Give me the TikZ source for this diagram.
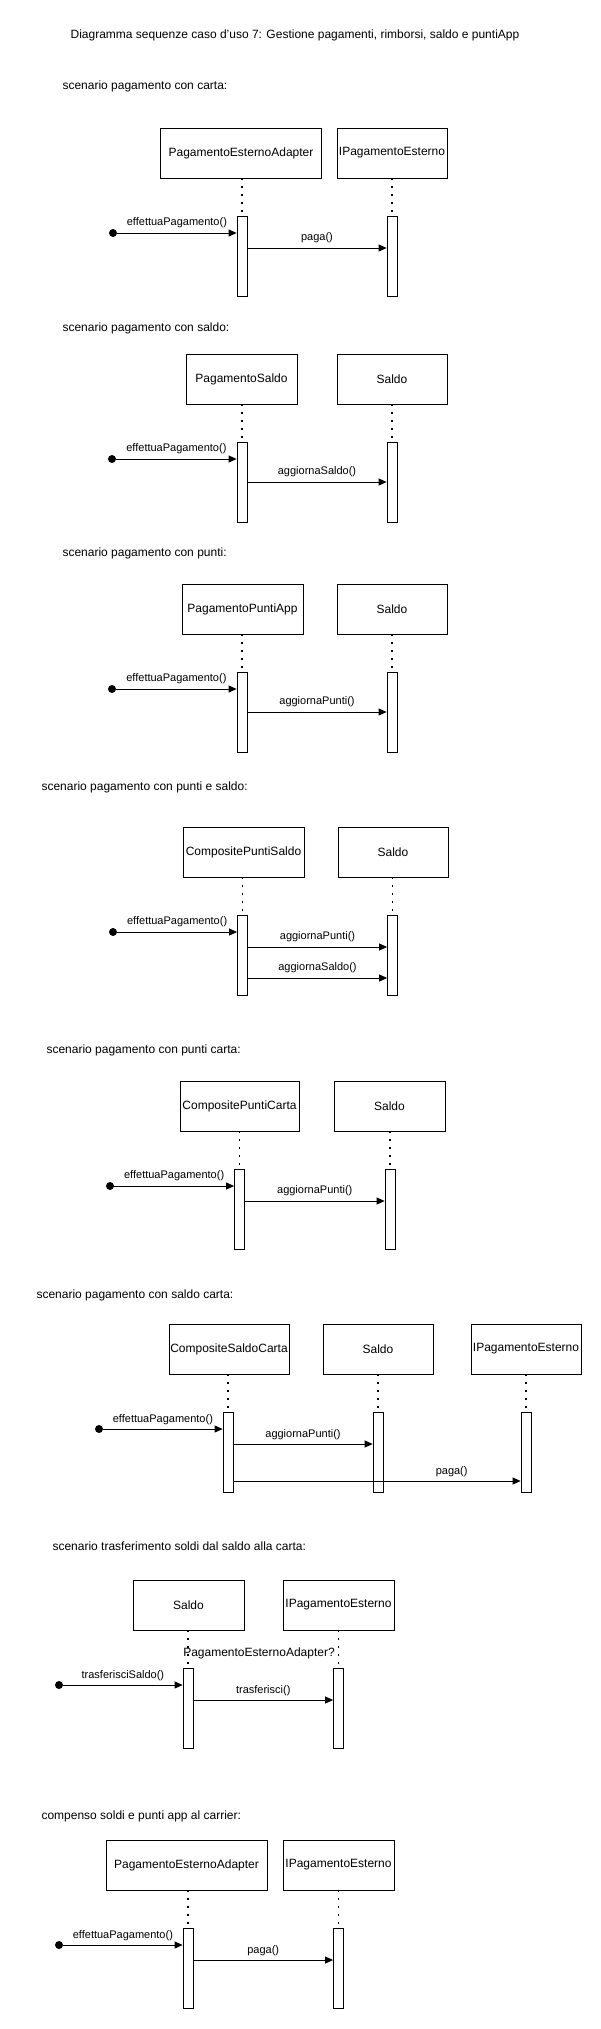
\documentclass[tikz,border=0pt]{standalone}
\usepackage{fontspec}
\setmainfont{Liberation Sans}
\usetikzlibrary{arrows.meta}
\usetikzlibrary{calc}

\tikzset{
  obj/.style={draw, line width=0.8pt, minimum height=50pt, inner sep=0pt, font=\fontsize{12}{14}\selectfont},
  act/.style={draw, line width=0.8pt, fill=white, minimum width=10pt, minimum height=80pt, inner sep=0pt},
  life/.style={line width=1.3pt, dash pattern=on 1.3pt off 6.7pt},
  msg/.style={line width=0.8pt, -{Triangle[length=8pt,width=7pt]}},
  startpt/.style={circle, fill=black, inner sep=0pt, minimum size=8pt},
  lbl/.style={font=\fontsize{11}{13}\selectfont, above=1pt},
  scen/.style={anchor=west, font=\fontsize{12}{14}\selectfont}
}

\begin{document}
\begin{tikzpicture}[x=1pt, y=-1pt]
  \useasboundingbox (0,0) rectangle (601,2029);

  \node[font=\fontsize{12}{14}\selectfont] (titolo) at (295,35) {Diagramma sequenze caso d'uso 7: Gestione pagamenti, rimborsi, saldo e puntiApp};

  % scenario 1
  \node[scen] (sc1) at (59,86) {scenario pagamento con carta:};
  \node[obj, minimum width=161pt] (p1a) at (241,153) {PagamentoEsternoAdapter};
  \node[obj, minimum width=110pt] (p1b) at (392,153) {IPagamentoEsterno};
  \node[act] (a1a) at (242,256.5) {};
  \node[act] (a1b) at (392,256.5) {};
  \draw[life] (a1a.north |- p1a.south) -- (a1a.north);
  \draw[life] (a1b.north |- p1b.south) -- (a1b.north);
  \node[startpt] (s1) at (113,233) {};
  \coordinate (m1) at (0,248);
  \draw[msg] (s1) -- (s1 -| a1a.west) node[lbl, midway] {effettuaPagamento()};
  \draw[msg] (a1a.east |- m1) -- (a1b.west |- m1) node[lbl, midway] {paga()};

  % scenario 2
  \node[scen] (sc2) at (59,328) {scenario pagamento con saldo:};
  \node[obj, minimum width=111pt] (p2a) at (241.5,379) {PagamentoSaldo};
  \node[obj, minimum width=110pt] (p2b) at (392,379) {Saldo};
  \node[act] (a2a) at (242,482.5) {};
  \node[act] (a2b) at (392,482.5) {};
  \draw[life] (a2a.north |- p2a.south) -- (a2a.north);
  \draw[life] (a2b.north |- p2b.south) -- (a2b.north);
  \node[startpt] (s2) at (112,459) {};
  \coordinate (m2) at (0,482);
  \draw[msg] (s2) -- (s2 -| a2a.west) node[lbl, midway] {effettuaPagamento()};
  \draw[msg] (a2a.east |- m2) -- (a2b.west |- m2) node[lbl, midway] {aggiornaSaldo()};

  % scenario 3
  \node[scen] (sc3) at (59,553) {scenario pagamento con punti:};
  \node[obj, minimum width=121pt] (p3a) at (242.5,609) {PagamentoPuntiApp};
  \node[obj, minimum width=110pt] (p3b) at (392,609) {Saldo};
  \node[act] (a3a) at (242,712.5) {};
  \node[act] (a3b) at (392,712.5) {};
  \draw[life] (a3a.north |- p3a.south) -- (a3a.north);
  \draw[life] (a3b.north |- p3b.south) -- (a3b.north);
  \node[startpt] (s3) at (112,689) {};
  \coordinate (m3) at (0,712);
  \draw[msg] (s3) -- (s3 -| a3a.west) node[lbl, midway] {effettuaPagamento()};
  \draw[msg] (a3a.east |- m3) -- (a3b.west |- m3) node[lbl, midway] {aggiornaPunti()};

  % scenario 4
  \node[scen] (sc4) at (38,787) {scenario pagamento con punti e saldo:};
  \node[obj, minimum width=121pt] (p4a) at (243.5,852) {CompositePuntiSaldo};
  \node[obj, minimum width=110pt] (p4b) at (393,852) {Saldo};
  \node[act] (a4a) at (242.5,955) {};
  \node[act] (a4b) at (392.5,955) {};
  \draw[life] (a4a.north |- p4a.south) -- (a4a.north);
  \draw[life] (a4b.north |- p4b.south) -- (a4b.north);
  \node[startpt] (s4) at (113,932) {};
  \coordinate (m4) at (0,947);
  \coordinate (n4) at (0,978);
  \draw[msg] (s4) -- (s4 -| a4a.west) node[lbl, midway] {effettuaPagamento()};
  \draw[msg] (a4a.east |- m4) -- (a4b.west |- m4) node[lbl, midway] {aggiornaPunti()};
  \draw[msg] (a4a.east |- n4) -- (a4b.west |- n4) node[lbl, midway] {aggiornaSaldo()};

  % scenario 5
  \node[scen] (sc5) at (43,1050) {scenario pagamento con punti carta:};
  \node[obj, minimum width=119pt] (p5a) at (239.5,1106) {CompositePuntiCarta};
  \node[obj, minimum width=111pt] (p5b) at (389.5,1106) {Saldo};
  \node[act] (a5a) at (239.5,1209) {};
  \node[act] (a5b) at (390,1209) {};
  \draw[life] (a5a.north |- p5a.south) -- (a5a.north);
  \draw[life] (a5b.north |- p5b.south) -- (a5b.north);
  \node[startpt] (s5) at (110,1186) {};
  \coordinate (m5) at (0,1201);
  \draw[msg] (s5) -- (s5 -| a5a.west) node[lbl, midway] {effettuaPagamento()};
  \draw[msg] (a5a.east |- m5) -- (a5b.west |- m5) node[lbl, midway] {aggiornaPunti()};

  % scenario 6
  \node[scen] (sc6) at (33,1295) {scenario pagamento con saldo carta:};
  \node[obj, minimum width=120pt] (p6a) at (229,1349) {CompositeSaldoCarta};
  \node[obj, minimum width=110pt] (p6b) at (378,1349) {Saldo};
  \node[obj, minimum width=110pt] (p6c) at (526,1349) {IPagamentoEsterno};
  \node[act] (a6a) at (228,1452.5) {};
  \node[act] (a6b) at (378,1452.5) {};
  \node[act] (a6c) at (526,1452.5) {};
  \draw[life] (a6a.north |- p6a.south) -- (a6a.north);
  \draw[life] (a6b.north |- p6b.south) -- (a6b.north);
  \draw[life] (a6c.north |- p6c.south) -- (a6c.north);
  \node[startpt] (s6) at (99,1429) {};
  \coordinate (m6) at (0,1444);
  \coordinate (n6) at (0,1481);
  \draw[msg] (s6) -- (s6 -| a6a.west) node[lbl, midway] {effettuaPagamento()};
  \draw[msg] (a6a.east |- m6) -- (a6b.west |- m6) node[lbl, midway] {aggiornaPunti()};
  \draw[msg] (a6a.east |- n6) -- (a6c.west |- n6) node[lbl, pos=0.76] {paga()};

  % scenario 7
  \node[scen] (sc7) at (49,1546) {scenario trasferimento soldi dal saldo alla carta:};
  \node[obj, minimum width=111pt] (p7a) at (188.5,1605) {Saldo};
  \node[obj, minimum width=111pt] (p7b) at (338.5,1605) {IPagamentoEsterno};
  \node[act] (a7a) at (188,1708) {};
  \node[act] (a7b) at (338.5,1708) {};
  \draw[life] (a7a.north |- p7a.south) -- (a7a.north);
  \draw[life] (a7b.north |- p7b.south) -- (a7b.north);
  \node[font=\fontsize{12}{14}\selectfont] (nota7) at (259,1653) {PagamentoEsternoAdapter?};
  \node[startpt] (s7) at (59,1685) {};
  \coordinate (m7) at (0,1700);
  \draw[msg] (s7) -- (s7 -| a7a.west) node[lbl, midway] {trasferisciSaldo()};
  \draw[msg] (a7a.east |- m7) -- (a7b.west |- m7) node[lbl, midway] {trasferisci()};

  % scenario 8
  \node[scen] (sc8) at (38,1816) {compenso soldi e punti app al carrier:};
  \node[obj, minimum width=161pt] (p8a) at (186.5,1865) {PagamentoEsternoAdapter};
  \node[obj, minimum width=111pt] (p8b) at (338.5,1865) {IPagamentoEsterno};
  \node[act] (a8a) at (188,1968) {};
  \node[act] (a8b) at (338.5,1968) {};
  \draw[life] (a8a.north |- p8a.south) -- (a8a.north);
  \draw[life] (a8b.north |- p8b.south) -- (a8b.north);
  \node[startpt] (s8) at (59,1945) {};
  \coordinate (m8) at (0,1960);
  \draw[msg] (s8) -- (s8 -| a8a.west) node[lbl, midway] {effettuaPagamento()};
  \draw[msg] (a8a.east |- m8) -- (a8b.west |- m8) node[lbl, midway] {paga()};
\end{tikzpicture}
\end{document}
